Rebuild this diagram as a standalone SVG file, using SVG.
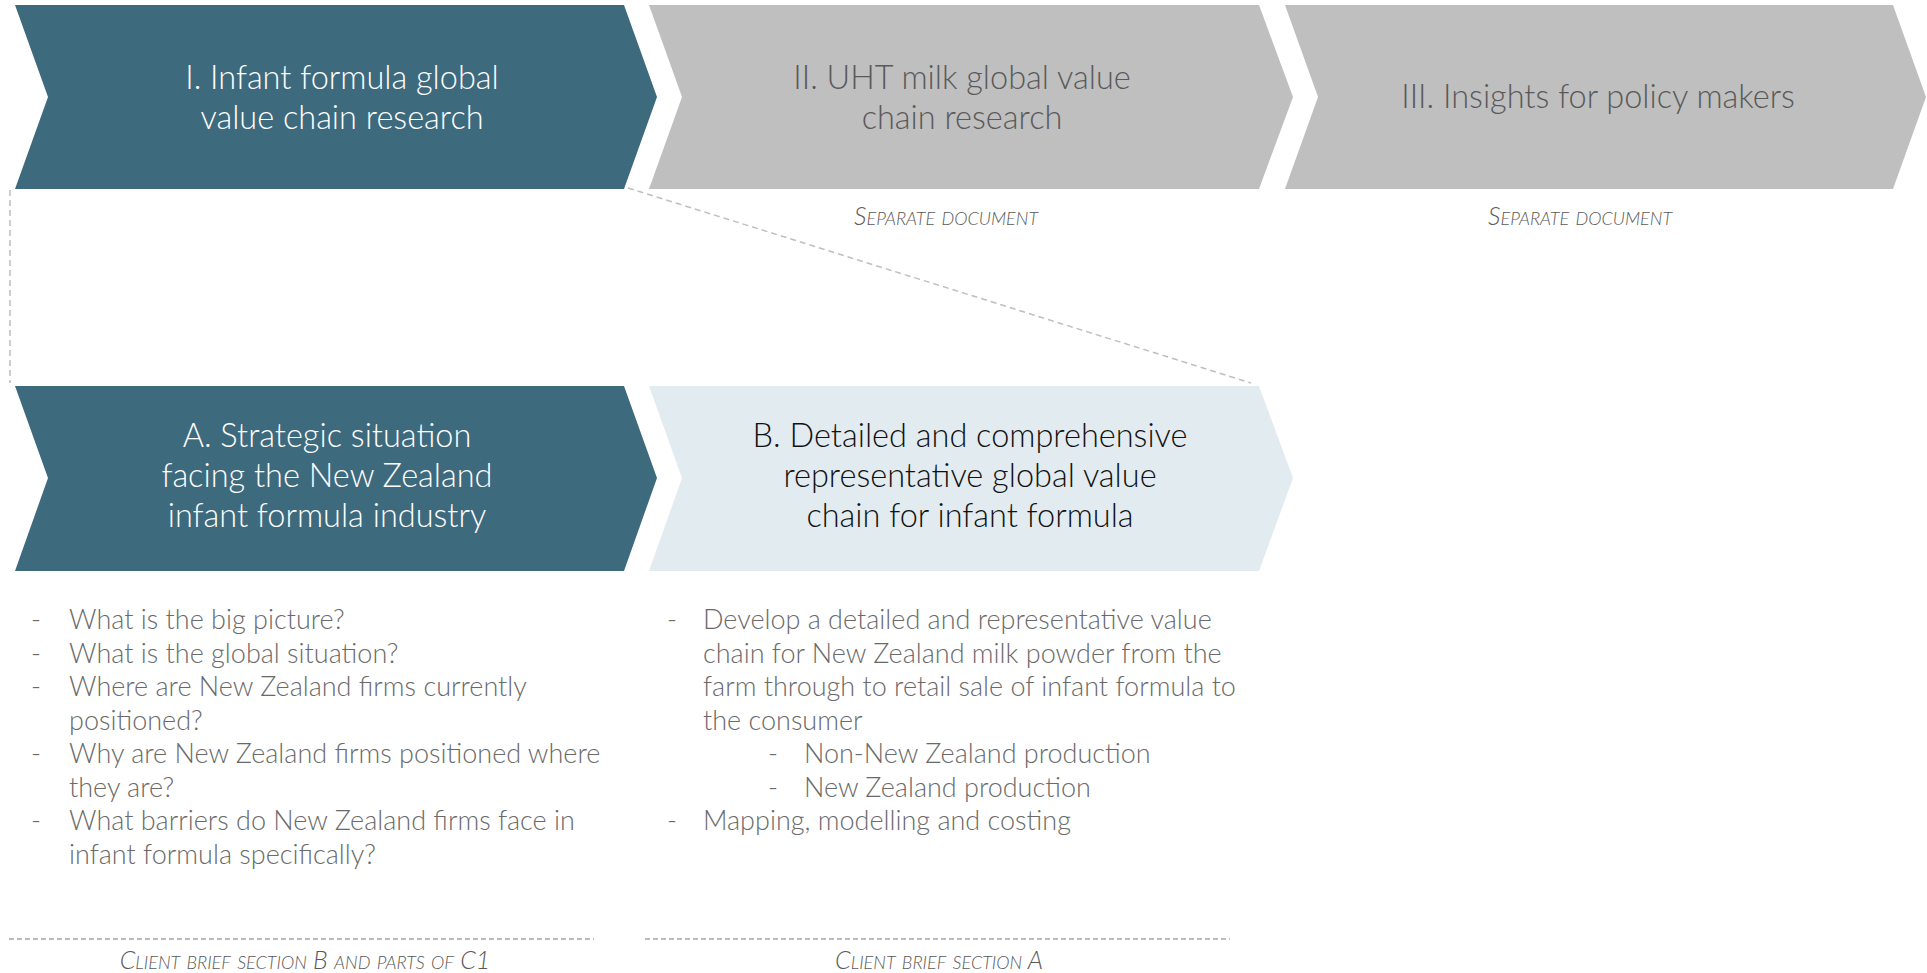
<svg xmlns="http://www.w3.org/2000/svg" width="1927" height="973" viewBox="0 0 1927 973">
<style>
  text { font-family: Lato, "Open Sans", "Liberation Sans", sans-serif; font-weight: 300; }
  .dark { fill: #3E6A7E; }
  .grey { fill: #BFBFBF; }
  .light { fill: #E2EBF0; }
  .t-white { fill: #FFFFFF; font-size: 32.5px; text-anchor: middle; }
  .t-grey { fill: #595959; font-size: 32.5px; text-anchor: middle; }
  .t-black { fill: #111111; font-size: 32.5px; text-anchor: middle; }
  .note { fill: #595959; font-size: 25px; font-style: italic; font-variant: small-caps; text-anchor: middle; }
  .bullet { fill: #6A6A6A; font-size: 27px; }
  .conn { stroke: #BFBFBF; stroke-width: 1.5; stroke-dasharray: 6 4; fill: none; }
  .rule { stroke: #A6A6A6; stroke-width: 1.5; stroke-dasharray: 5 3; fill: none; }
</style>

<g id="connectors">
  <line class="conn" x1="10" y1="190" x2="10" y2="383"/>
  <line class="conn" x1="628" y1="188" x2="1251" y2="383"/>
</g>

<g id="node-I">
  <polygon class="dark" points="15,5 624,5 657,97 624,189 15,189 48,97"/>
  <text class="t-white" x="342" y="89">I. Infant formula global</text>
  <text class="t-white" x="342" y="129">value chain research</text>
</g>

<g id="node-II">
  <polygon class="grey" points="649,5 1259,5 1293,97 1259,189 649,189 682,97"/>
  <text class="t-grey" x="962" y="89">II. UHT milk global value</text>
  <text class="t-grey" x="962" y="129">chain research</text>
  <text class="note" x="946" y="225">Separate document</text>
</g>

<g id="node-III">
  <polygon class="grey" points="1285,5 1893,5 1926,97 1893,189 1285,189 1318,97"/>
  <text class="t-grey" x="1598" y="108">III. Insights for policy makers</text>
  <text class="note" x="1580" y="225">Separate document</text>
</g>

<g id="node-A">
  <polygon class="dark" points="15,386 624,386 657,478 624,571 15,571 48,478"/>
  <text class="t-white" x="327" y="447">A. Strategic situation</text>
  <text class="t-white" x="327" y="487">facing the New Zealand</text>
  <text class="t-white" x="327" y="527">infant formula industry</text>
</g>

<g id="node-B">
  <polygon class="light" points="649,386 1259,386 1293,478 1259,571 649,571 682,478"/>
  <text class="t-black" x="970" y="447">B. Detailed and comprehensive</text>
  <text class="t-black" x="970" y="487">representative global value</text>
  <text class="t-black" x="970" y="527">chain for infant formula</text>
</g>

<g id="list-A">
  <text class="bullet" x="31" y="629">-</text>
  <text class="bullet" x="69" y="629">What is the big picture?</text>
  <text class="bullet" x="31" y="663">-</text>
  <text class="bullet" x="69" y="663">What is the global situation?</text>
  <text class="bullet" x="31" y="696">-</text>
  <text class="bullet" x="69" y="696">Where are New Zealand firms currently</text>
  <text class="bullet" x="69" y="730">positioned?</text>
  <text class="bullet" x="31" y="763">-</text>
  <text class="bullet" x="69" y="763">Why are New Zealand firms positioned where</text>
  <text class="bullet" x="69" y="797">they are?</text>
  <text class="bullet" x="31" y="830">-</text>
  <text class="bullet" x="69" y="830">What barriers do New Zealand firms face in</text>
  <text class="bullet" x="69" y="864">infant formula specifically?</text>
</g>

<g id="list-B">
  <text class="bullet" x="667" y="629">-</text>
  <text class="bullet" x="703" y="629">Develop a detailed and representative value</text>
  <text class="bullet" x="703" y="663">chain for New Zealand milk powder from the</text>
  <text class="bullet" x="703" y="696">farm through to retail sale of infant formula to</text>
  <text class="bullet" x="703" y="730">the consumer</text>
  <text class="bullet" x="768" y="763">-</text>
  <text class="bullet" x="804" y="763">Non-New Zealand production</text>
  <text class="bullet" x="768" y="797">-</text>
  <text class="bullet" x="804" y="797">New Zealand production</text>
  <text class="bullet" x="667" y="830">-</text>
  <text class="bullet" x="703" y="830">Mapping, modelling and costing</text>
</g>

<g id="footer">
  <line class="rule" x1="9" y1="939" x2="594" y2="939"/>
  <line class="rule" x1="645" y1="939" x2="1230" y2="939"/>
  <text class="note" x="305" y="969">Client brief section B and parts of C1</text>
  <text class="note" x="939" y="969">Client brief section A</text>
</g>
</svg>
